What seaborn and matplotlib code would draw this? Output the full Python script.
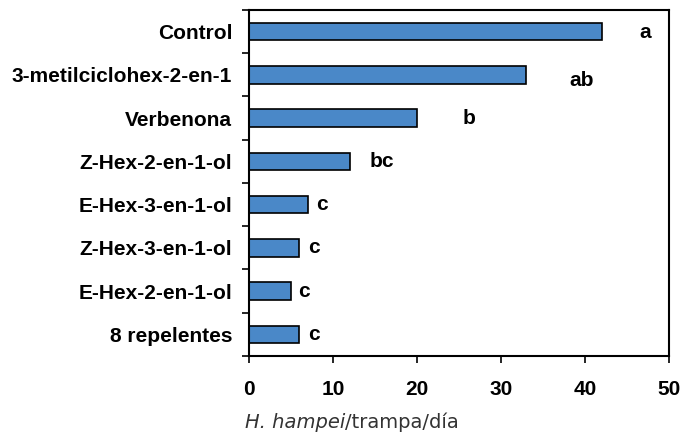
import numpy as np
import pandas as pd
import matplotlib.pyplot as plt
import seaborn as sns

categorias = ["Control", "3-metilciclohex-2-en-1", "Verbenona", "Z-Hex-2-en-1-ol",
              "E-Hex-3-en-1-ol", "Z-Hex-3-en-1-ol", "E-Hex-2-en-1-ol", "8 repelentes"]
capturas = [42, 33, 20, 12, 7, 6, 5, 6]
letras = ["a", "ab", "b", "bc", "c", "c", "c", "c"]
# where each letter sits (x in data units, small vertical shift)
letras_x = [46.5, 38.2, 25.4, 14.3, 8.0, 7.0, 5.9, 7.0]
letras_dy = [0.03, 0.12, 0.02, 0.0, 0.0, 0.0, 0.0, 0.0]

df = pd.DataFrame({"trat": categorias, "valor": capturas})

sns.set_style("ticks")
plt.rcParams['font.family'] = ['Liberation Sans', 'DejaVu Sans']
plt.rcParams['text.color'] = 'black'
plt.rcParams['xtick.color'] = 'black'
plt.rcParams['ytick.color'] = 'black'

fig = plt.figure(figsize=(6.82, 4.36), dpi=100)
ax = fig.add_axes([0.3651, 0.1835, 0.6158, 0.7936])

sns.barplot(data=df, x="valor", y="trat", orient="h", color="#4A88C8",
            saturation=1, width=0.4, edgecolor="black", linewidth=1.2, ax=ax)

for i, (l, lx, dy) in enumerate(zip(letras, letras_x, letras_dy)):
    ax.text(lx, i + dy, l, ha="left", va="center", fontsize=15,
            fontweight="bold", color="black")

ax.set_xlim(0, 50)
ax.set_ylim(7.5, -0.5)
ax.set_xticks([0, 10, 20, 30, 40, 50])
ax.set_yticks(np.arange(-0.5, 8, 1), minor=True)
ax.tick_params(axis="y", which="major", length=0, pad=12, labelsize=15, labelcolor="black")
ax.tick_params(axis="y", which="minor", length=5, width=1.2, direction="out", color="black")
ax.tick_params(axis="x", length=5, width=1.2, direction="out", pad=12, labelsize=15,
               color="black", labelcolor="black")
for t in ax.get_xticklabels() + ax.get_yticklabels():
    t.set_fontweight("bold")

for s in ax.spines.values():
    s.set_visible(True)
    s.set_linewidth(1.5)
    s.set_color("black")

ax.set_xlabel("")
ax.set_ylabel("")

# x label: italic species name + regular text
fig.canvas.draw()
r = fig.canvas.get_renderer()
ylab = 1 - 422 / 436
t1 = fig.text(245 / 682, ylab, "H. hampei", fontsize=14, style="italic",
              family="DejaVu Sans", color="#333333", va="center", ha="left")
bb = t1.get_window_extent(renderer=r)
fig.text(bb.x1 / fig.bbox.width, ylab, "/trampa/día", fontsize=14,
         family="DejaVu Sans", color="#333333", va="center", ha="left")

fig.savefig("out.png", dpi=100)
